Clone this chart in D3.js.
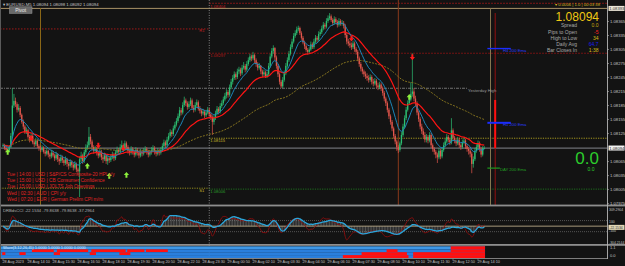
<!DOCTYPE html>
<html><head><meta charset="utf-8">
<script src="https://cdn.jsdelivr.net/npm/d3@7"></script>
<style>html,body{margin:0;padding:0;background:#131313;overflow:hidden}svg{display:block}text{font-family:"Liberation Sans","DejaVu Sans",sans-serif}</style>
</head><body><svg id="c" width="625" height="266"></svg>
<script>
// ---------------- DATA (EURUSD, M5) ----------------
const firstOpen = 1.08098;
const closes = [
1.08100,1.08094,1.08090,1.08088,1.08096,1.08120,1.08185,1.08195,1.08188,1.08176,
1.08180,1.08165,1.08150,1.08140,1.08128,1.08132,1.08118,1.08112,1.08120,1.08106,
1.08102,1.08110,1.08098,1.08094,1.08090,1.08095,1.08086,1.08082,1.08088,1.08080,
1.08076,1.08084,1.08078,1.08072,1.08080,1.08070,1.08066,1.08074,1.08068,1.08062,
1.08070,1.08060,1.08056,1.08064,1.08058,1.08052,1.08060,1.08048,1.08044,1.08070,
1.08078,1.08066,1.08085,1.08095,1.08100,1.08118,1.08108,1.08096,1.08088,1.08092,
1.08084,1.08078,1.08086,1.08074,1.08070,1.08078,1.08066,1.08072,1.08068,1.08074,
1.08080,1.08072,1.08084,1.08090,1.08086,1.08095,1.08100,1.08092,1.08104,1.08096,
1.08088,1.08084,1.08092,1.08086,1.08080,1.08090,1.08084,1.08078,1.08086,1.08082,
1.08088,1.08092,1.08086,1.08080,1.08085,1.08090,1.08094,1.08086,1.08082,1.08088,
1.08084,1.08090,1.08098,1.08106,1.08100,1.08112,1.08120,1.08128,1.08124,1.08136,
1.08144,1.08152,1.08162,1.08175,1.08170,1.08186,1.08196,1.08190,1.08182,1.08188,
1.08196,1.08180,1.08176,1.08186,1.08192,1.08178,1.08174,1.08168,1.08172,1.08164,
1.08170,1.08176,1.08166,1.08160,1.08150,1.08158,1.08168,1.08178,1.08172,1.08184,
1.08190,1.08198,1.08206,1.08214,1.08208,1.08224,1.08236,1.08244,1.08252,1.08246,
1.08258,1.08262,1.08254,1.08266,1.08270,1.08262,1.08274,1.08282,1.08290,1.08286,
1.08293,1.08282,1.08274,1.08266,1.08270,1.08258,1.08252,1.08256,1.08248,1.08252,
1.08270,1.08290,1.08302,1.08308,1.08288,1.08270,1.08252,1.08236,1.08226,1.08240,
1.08254,1.08270,1.08282,1.08296,1.08310,1.08322,1.08334,1.08340,1.08348,1.08351,
1.08340,1.08330,1.08320,1.08312,1.08304,1.08300,1.08305,1.08316,1.08310,1.08322,
1.08330,1.08326,1.08338,1.08342,1.08350,1.08358,1.08354,1.08366,1.08372,1.08376,
1.08368,1.08362,1.08370,1.08364,1.08358,1.08366,1.08360,1.08362,1.08356,1.08336,
1.08322,1.08318,1.08314,1.08310,1.08318,1.08306,1.08300,1.08286,1.08274,1.08264,
1.08258,1.08252,1.08248,1.08244,1.08240,1.08246,1.08236,1.08232,1.08238,1.08228,
1.08224,1.08230,1.08222,1.08212,1.08200,1.08190,1.08176,1.08162,1.08150,1.08136,
1.08120,1.08108,1.08096,1.08090,1.08104,1.08122,1.08140,1.08158,1.08176,1.08190,
1.08198,1.08210,1.08215,1.08200,1.08190,1.08170,1.08156,1.08140,1.08130,1.08122,
1.08112,1.08118,1.08110,1.08122,1.08100,1.08092,1.08086,1.08080,1.08074,1.08088,
1.08076,1.08090,1.08100,1.08108,1.08118,1.08112,1.08106,1.08132,1.08116,1.08110,
1.08104,1.08112,1.08100,1.08096,1.08106,1.08110,1.08098,1.08092,1.08088,1.08082,
1.08060,1.08070,1.08088,1.08096,1.08104,1.08092,1.08080,1.08094,1.08094];
const highs = [
1.08104,1.08103,1.08097,1.08093,1.08099,1.08126,1.08222,1.08210,1.08202,1.08192,
1.08188,1.08184,1.08168,1.08155,1.08144,1.08138,1.08135,1.08122,1.08126,1.08124,
1.08110,1.08116,1.08113,1.08102,1.08099,1.08100,1.08098,1.08090,1.08094,1.08091,
1.08084,1.08090,1.08088,1.08082,1.08086,1.08083,1.08074,1.08080,1.08078,1.08072,
1.08076,1.08073,1.08064,1.08070,1.08068,1.08062,1.08066,1.08063,1.08052,1.08076,
1.08086,1.08082,1.08090,1.08102,1.08108,1.08139,1.08124,1.08112,1.08100,1.08098,
1.08096,1.08088,1.08092,1.08090,1.08080,1.08084,1.08081,1.08078,1.08076,1.08080,
1.08086,1.08084,1.08090,1.08097,1.08094,1.08102,1.08110,1.08104,1.08110,1.08108,
1.08100,1.08092,1.08098,1.08096,1.08090,1.08096,1.08094,1.08088,1.08092,1.08090,
1.08094,1.08098,1.08096,1.08090,1.08090,1.08096,1.08100,1.08098,1.08090,1.08094,
1.08092,1.08096,1.08104,1.08112,1.08110,1.08118,1.08126,1.08134,1.08132,1.08142,
1.08150,1.08158,1.08168,1.08182,1.08180,1.08192,1.08204,1.08200,1.08194,1.08194,
1.08202,1.08200,1.08186,1.08192,1.08198,1.08196,1.08184,1.08178,1.08178,1.08176,
1.08176,1.08182,1.08180,1.08170,1.08164,1.08164,1.08174,1.08184,1.08182,1.08190,
1.08196,1.08204,1.08212,1.08220,1.08218,1.08230,1.08242,1.08250,1.08258,1.08256,
1.08264,1.08268,1.08266,1.08272,1.08278,1.08274,1.08280,1.08288,1.08296,1.08294,
1.08300,1.08296,1.08286,1.08278,1.08276,1.08272,1.08262,1.08262,1.08260,1.08258,
1.08276,1.08296,1.08308,1.08314,1.08310,1.08292,1.08274,1.08256,1.08240,1.08246,
1.08260,1.08276,1.08288,1.08302,1.08316,1.08328,1.08340,1.08346,1.08354,1.08356,
1.08354,1.08344,1.08334,1.08324,1.08316,1.08308,1.08310,1.08322,1.08320,1.08328,
1.08336,1.08334,1.08344,1.08348,1.08356,1.08364,1.08362,1.08372,1.08378,1.08383,
1.08380,1.08372,1.08376,1.08374,1.08368,1.08372,1.08370,1.08368,1.08366,1.08360,
1.08340,1.08328,1.08324,1.08320,1.08324,1.08322,1.08310,1.08304,1.08290,1.08278,
1.08268,1.08262,1.08258,1.08254,1.08250,1.08252,1.08250,1.08242,1.08244,1.08242,
1.08234,1.08236,1.08234,1.08226,1.08216,1.08204,1.08194,1.08180,1.08166,1.08154,
1.08140,1.08124,1.08112,1.08100,1.08108,1.08128,1.08146,1.08164,1.08182,1.08196,
1.08204,1.08235,1.08297,1.08222,1.08206,1.08194,1.08174,1.08160,1.08146,1.08136,
1.08128,1.08124,1.08122,1.08128,1.08126,1.08104,1.08096,1.08090,1.08084,1.08094,
1.08092,1.08096,1.08106,1.08114,1.08124,1.08122,1.08116,1.08158,1.08136,1.08120,
1.08114,1.08118,1.08116,1.08104,1.08112,1.08116,1.08114,1.08102,1.08096,1.08092,
1.08086,1.08076,1.08094,1.08102,1.08110,1.08108,1.08096,1.08098,1.08098];
const lows = [
1.08096,1.08090,1.08086,1.08084,1.08086,1.08094,1.08116,1.08180,1.08182,1.08170,
1.08172,1.08160,1.08146,1.08134,1.08124,1.08124,1.08114,1.08106,1.08108,1.08102,
1.08096,1.08098,1.08094,1.08088,1.08085,1.08086,1.08082,1.08076,1.08078,1.08074,
1.08070,1.08072,1.08074,1.08066,1.08068,1.08064,1.08058,1.08062,1.08062,1.08056,
1.08058,1.08054,1.08048,1.08052,1.08052,1.08046,1.08048,1.08042,1.08036,1.07989,
1.08064,1.08060,1.08062,1.08080,1.08090,1.08096,1.08102,1.08090,1.08082,1.08084,
1.08078,1.08072,1.08074,1.08068,1.08062,1.08066,1.08060,1.08058,1.08062,1.08064,
1.08070,1.08066,1.08068,1.08080,1.08080,1.08082,1.08090,1.08086,1.08088,1.08090,
1.08082,1.08078,1.08080,1.08080,1.08074,1.08076,1.08078,1.08072,1.08074,1.08076,
1.08078,1.08084,1.08080,1.08074,1.08076,1.08080,1.08086,1.08080,1.08076,1.08078,
1.08078,1.08080,1.08086,1.08094,1.08094,1.08096,1.08108,1.08116,1.08118,1.08120,
1.08132,1.08140,1.08148,1.08158,1.08164,1.08166,1.08182,1.08184,1.08176,1.08178,
1.08184,1.08176,1.08170,1.08172,1.08182,1.08174,1.08168,1.08162,1.08164,1.08158,
1.08160,1.08166,1.08160,1.08154,1.08122,1.08144,1.08154,1.08164,1.08166,1.08168,
1.08180,1.08186,1.08194,1.08200,1.08202,1.08204,1.08220,1.08230,1.08240,1.08240,
1.08242,1.08252,1.08248,1.08250,1.08262,1.08256,1.08258,1.08270,1.08278,1.08280,
1.08282,1.08276,1.08268,1.08260,1.08262,1.08252,1.08246,1.08248,1.08244,1.08244,
1.08248,1.08266,1.08286,1.08296,1.08282,1.08264,1.08246,1.08230,1.08222,1.08222,
1.08236,1.08250,1.08266,1.08278,1.08292,1.08306,1.08318,1.08330,1.08336,1.08344,
1.08336,1.08326,1.08316,1.08306,1.08300,1.08294,1.08296,1.08302,1.08306,1.08306,
1.08318,1.08320,1.08322,1.08334,1.08338,1.08346,1.08348,1.08350,1.08362,1.08368,
1.08364,1.08356,1.08358,1.08360,1.08352,1.08354,1.08356,1.08356,1.08350,1.08330,
1.08316,1.08312,1.08308,1.08304,1.08306,1.08300,1.08294,1.08280,1.08268,1.08258,
1.08252,1.08246,1.08242,1.08238,1.08234,1.08236,1.08230,1.08226,1.08228,1.08222,
1.08218,1.08220,1.08216,1.08206,1.08194,1.08184,1.08170,1.08156,1.08144,1.08130,
1.08114,1.08102,1.08088,1.08083,1.08086,1.08100,1.08118,1.08136,1.08154,1.08172,
1.08186,1.08194,1.08204,1.08194,1.08184,1.08164,1.08150,1.08134,1.08124,1.08116,
1.08106,1.08106,1.08104,1.08106,1.08094,1.08086,1.08080,1.08072,1.08062,1.08070,
1.08070,1.08072,1.08086,1.08096,1.08104,1.08106,1.08100,1.08102,1.08110,1.08104,
1.08098,1.08100,1.08094,1.08090,1.08092,1.08102,1.08092,1.08086,1.08080,1.08074,
1.08040,1.08052,1.08066,1.08084,1.08092,1.08086,1.08074,1.08076,1.08092];

const timeLabels = ["28 Aug 2023","28 Aug 14:10","28 Aug 15:30","28 Aug 16:50","28 Aug 18:10","28 Aug 19:30","28 Aug 20:50","28 Aug 22:10","28 Aug 23:30","29 Aug 00:50","29 Aug 02:10","29 Aug 03:30","29 Aug 04:50","29 Aug 06:10","29 Aug 07:30","29 Aug 08:50","29 Aug 10:10","29 Aug 11:30","29 Aug 12:50","29 Aug 14:10"];
const timeLabelBars = [0,16,32,48,64,80,96,112,128,144,160,176,192,208,224,240,256,272,288,304];
const priceTicks = ["1.07975","1.08005","1.08035","1.08065","1.08125","1.08155","1.08185","1.08215","1.08245","1.08275","1.08305","1.08335","1.08365"];
const currentPrice = 1.08094;

const buyBars = [3, 54, 68, 79, 260];
const buyPrices = [1.08085, 1.08055, 1.08034, 1.08036, 1.08203];
const sellBars = [18, 61, 77, 223, 262];
const sellPrices = [1.08115, 1.08100, 1.08094, 1.08329, 1.08289];

const events = ["Tue | 14:00 | USD | S&P/CS Composite-20 HPI y/y","Tue | 15:00 | USD | CB Consumer Confidence","Tue | 15:00 | USD | JOLTS Job Openings","Wed | 02:30 | AUD | CPI y/y","Wed | 07:20 | EUR | German Prelim CPI m/m"];
const infoLabels = ["Spread","Pips to Open","High to Low","Daily Avg","Bar Closes In"];
const infoValues = ["0.0","-5","34","64.7","1:38"];

const waveRow1Red = [[287,308]];
const waveRow2Red = [[19,32],[35,54],[57,78],[80,90],[92,105],[246,252],[287,308]];
const waveRow3Red = [[0,1],[11,14],[33,36],[56,59],[75,81],[230,258],[263,308]];
const waveRow4Red = [[218,259],[263,308]];
const cciLevels = [309.2904, 100, -100, -304.2144];

// ---------------- DRAW ----------------
const svg = d3.select('#c');
const W = 625, H = 266, AX = 607;
const BG = '#131313', BULL = '#2cbf72', BEAR = '#e4564c';
const x = d3.scaleLinear().domain([0, 304]).range([3, 478]);
const y = d3.scaleLinear().domain([1.07972, 1.08411]).range([205, 0]);
const yC = d3.scaleLinear().domain([-304.2144, 309.2904]).range([243, 209]);
const bw = x(1) - x(0);

svg.append('rect').attr('width', W).attr('height', H).attr('fill', BG);
const defs = svg.append('defs');
defs.append('clipPath').attr('id', 'cm').append('rect').attr('x', 0).attr('y', 0).attr('width', AX).attr('height', 205);
defs.append('clipPath').attr('id', 'cc').append('rect').attr('x', 0).attr('y', 207).attr('width', AX).attr('height', 37);

const bars = closes.map((c, i) => ({ i, o: i ? closes[i - 1] : firstOpen, h: highs[i], l: lows[i], c }));

function hline(p, x0, x1, color, dash, w) {
  svg.append('line').attr('x1', x0).attr('x2', x1).attr('y1', y(p)).attr('y2', y(p))
    .attr('stroke', color).attr('stroke-width', w || 1).attr('stroke-dasharray', dash || null);
}
function txt(s, tx, ty, size, color, anchor) {
  return svg.append('text').attr('x', tx).attr('y', ty).attr('font-size', size).attr('fill', color)
    .attr('text-anchor', anchor || 'start').text(s);
}
const xDay = x(132);

// level lines
hline(1.08393, 0, AX, '#a89266', null, 1);
hline(1.08404, xDay, AX, '#b01818', '1.5,1.5', 0.9);
hline(1.08349, 0, xDay, '#b01818', '1.5,1.5', 0.9);
hline(1.08297, xDay, AX, '#a01414', '1.5,1.5', 0.9);
hline(1.08222, 0, 467, '#8a8a8a', '3,1,1,1', 0.8);
hline(1.08115, xDay, AX, '#b8a820', '1.2,1.2', 0.9);
hline(1.08008, 0, xDay, '#a09a20', '1.2,1.2', 0.9);
hline(1.08006, xDay, AX, '#1f7a1f', '1.2,1.2', 0.9);
hline(currentPrice, 0, AX, '#6c6f74', null, 1.3);

// vertical lines
function vline(b, y0, y1, color, w, dash) {
  svg.append('line').attr('x1', x(b)).attr('x2', x(b)).attr('y1', y0).attr('y2', y1)
    .attr('stroke', color).attr('stroke-width', w).attr('stroke-dasharray', dash || null);
}
vline(24, 8, 205, '#8a6616', 1);
vline(132, 0, 258, '#a0a0a0', 0.8, '1,1.5');
vline(253, 0, 205, '#8a3a1c', 1);
vline(312, 8, 205, '#857550', 1);
vline(315, 13, 205, '#a01010', 0.9);
svg.append('line').attr('x1', x(315)).attr('x2', x(315)).attr('y1', y(1.08197)).attr('y2', y(currentPrice))
  .attr('stroke', '#ff1010').attr('stroke-width', 2);

// EMA markers at right
hline(1.08307, x(310), x(325), '#1a2cff', null, 1.4);
hline(1.08148, x(310), x(325), '#1a2cff', null, 2);
hline(1.08051, x(310), x(318), '#1e9a1e', null, 1.2);
txt('H4 200 Ema', x(320), y(1.08307) + 3, 4.2, '#2a3cff');
txt('H1 200 Ema', x(320), y(1.08148) + 3, 4.2, '#2a3cff');
txt('DAY 200 Ema', x(318), y(1.08051) + 3, 4.2, '#22a022');

// level labels
txt('1.08404', xDay + 1, y(1.08404) + 4.5, 4.2, '#c02020');
txt('R1', xDay - 10, y(1.08349) + 3, 4.2, '#c02020');
txt('1.08297', xDay + 1, y(1.08297) + 4, 4.2, '#b01818');
txt('Yesterday High', 468, y(1.08222) + 4, 4.2, '#9a9a9a');
txt('1.08115', xDay + 1, y(1.08115) + 3.5, 4.2, '#c8b428');
txt('S1', xDay - 10, y(1.08008) + 3.5, 4.2, '#c8b428');
txt('1.08006', xDay + 1, y(1.08006) + 3.5, 4.2, '#2a9a2a');

// candles
const gm = svg.append('g').attr('clip-path', 'url(#cm)');
gm.selectAll('line.w').data(bars).join('line')
  .attr('x1', d => x(d.i)).attr('x2', d => x(d.i)).attr('y1', d => y(d.h)).attr('y2', d => y(d.l))
  .attr('stroke', d => d.c >= d.o ? BULL : BEAR).attr('stroke-width', 0.7);
gm.selectAll('rect.b').data(bars).join('rect')
  .attr('x', d => x(d.i) - 0.65).attr('width', 1.3)
  .attr('y', d => y(Math.max(d.o, d.c))).attr('height', d => Math.max(0.7, Math.abs(y(d.o) - y(d.c))))
  .attr('fill', d => d.c >= d.o ? BULL : BEAR);

// moving averages (computed from closes)
function ema(arr, n) { const k = 2 / (n + 1); let e = arr[0]; return arr.map((v, i) => i ? (e = v * k + e * (1 - k)) : e); }
const lineGen = d3.line().x((d, i) => x(i)).y(d => y(d));
gm.append('path').attr('d', lineGen(ema(closes, 100))).attr('fill', 'none').attr('stroke', '#86741f').attr('stroke-width', 1).attr('stroke-dasharray', '2,1.2');
gm.append('path').attr('d', lineGen(ema(closes, 30))).attr('fill', 'none').attr('stroke', '#ff1414').attr('stroke-width', 1.2);
gm.append('path').attr('d', lineGen(ema(closes, 10))).attr('fill', 'none').attr('stroke', '#1d86b8').attr('stroke-width', 1);

// signal arrows
const upPath = 'M0,-3.2 L2.6,0 L1,0 L1,2.6 L-1,2.6 L-1,0 L-2.6,0 Z';
const dnPath = 'M0,3.2 L2.6,0 L1,0 L1,-2.6 L-1,-2.6 L-1,0 L-2.6,0 Z';
gm.selectAll('path.up').data(buyBars).join('path').attr('d', upPath)
  .attr('transform', (b, k) => `translate(${x(b)},${y(buyPrices[k])})`).attr('fill', '#8cf03c');
gm.selectAll('path.dn').data(sellBars).join('path').attr('d', dnPath)
  .attr('transform', (b, k) => `translate(${x(b)},${y(sellPrices[k])})`).attr('fill', '#ff1a1a');

// events
events.forEach((e, k) => txt(e, 7, 175.6 + k * 6.3, 4.8, '#e02424'));

// title + pivot button
txt('\u25BE EURUSD,M5  1.08094 1.08098 1.08092 1.08094', 3, 5.5, 4.3, '#c8c8c8');
svg.append('rect').attr('x', 9.5).attr('y', 6.8).attr('width', 22.5).attr('height', 6.6).attr('fill', '#6a6a6a').attr('stroke', '#9a9a9a').attr('stroke-width', 0.5);
txt('Pivot', 20.7, 12, 5, '#e6e6e6', 'middle');
txt('\u25BE 0.0006 | 1.0 | 00:03:38', 600, 6.3, 4.2, '#d8b820', 'end');

// info panel
txt(currentPrice.toFixed(5), 599, 20.6, 12, '#f0c814', 'end');
const infoColors = ['#c8aa10', '#ff2020', '#d8bc18', '#1c1cf0', '#d8bc18'];
infoLabels.forEach((l, k) => {
  const ty = 27.4 + k * 6.2;
  txt(l, 577, ty, 5, '#a8a8a8', 'end');
  txt(infoValues[k], 598.5, ty, 5, infoColors[k], 'end');
});
txt('0.0', 599, 163.5, 17, '#2ccc2c', 'end');
txt('0.0', 591, 171, 5, '#2ccc2c', 'middle');

// ---------- CCI window ----------
const tp = bars.map(b => (b.h + b.l + b.c) / 3);
function cci(n) {
  return tp.map((t, i) => {
    const w = tp.slice(Math.max(0, i - n + 1), i + 1);
    const m = d3.mean(w), md = d3.mean(w, v => Math.abs(v - m));
    return md ? Math.max(-290, Math.min(290, (t - m) / (0.015 * md))) : 0;
  });
}
const cciFast = ema(cci(30), 4).map(v => v * 0.8), cciSlow = ema(cci(14), 2);
const gc = svg.append('g').attr('clip-path', 'url(#cc)');
gc.append('line').attr('x1', 0).attr('x2', AX).attr('y1', yC(100)).attr('y2', yC(100)).attr('stroke', '#707070').attr('stroke-width', 0.7).attr('stroke-dasharray', '1,1');
gc.append('line').attr('x1', 0).attr('x2', AX).attr('y1', yC(-100)).attr('y2', yC(-100)).attr('stroke', '#707070').attr('stroke-width', 0.7).attr('stroke-dasharray', '1,1');
gc.selectAll('line.h').data(cciFast).join('line')
  .attr('x1', (d, i) => x(i)).attr('x2', (d, i) => x(i)).attr('y1', yC(0)).attr('y2', d => yC(d))
  .attr('stroke', '#8a8a8a').attr('stroke-width', 0.55);
gc.append('line').attr('x1', 0).attr('x2', AX).attr('y1', yC(0)).attr('y2', yC(0)).attr('stroke', '#b8a888').attr('stroke-width', 0.9);
const cLine = d3.line().x((d, i) => x(i)).y(d => yC(d)).curve(d3.curveMonotoneX);
gc.append('path').attr('d', cLine(cciSlow)).attr('fill', 'none').attr('stroke', '#8c0d0d').attr('stroke-width', 0.9);
gc.append('path').attr('d', cLine(cciFast)).attr('fill', 'none').attr('stroke', '#2aa6dc').attr('stroke-width', 1.3);
txt('DRBdsCCI -22.1534 -79.8638 -79.8638 -37.2964', 3, 211.5, 4.2, '#b0b0b0');

// ---------- Wave window ----------
const rows = [waveRow1Red, waveRow2Red, waveRow3Red, waveRow4Red];
const rowY = [246.3, 249.3, 252.2, 255.1], rowH = [3, 2.9, 2.9, 3];
const rowBlue = ['#3d97e6', '#2a7fdc', '#2a7fdc', '#2a7fdc'];
rows.forEach((segs, r) => {
  svg.append('rect').attr('x', 0).attr('y', rowY[r]).attr('width', x(308) + bw / 2).attr('height', rowH[r]).attr('fill', rowBlue[r]);
  svg.selectAll(null).data(segs).join('rect')
    .attr('x', d => x(d[0]) - bw / 2).attr('width', d => x(d[1]) - x(d[0]) + bw)
    .attr('y', rowY[r]).attr('height', rowH[r]).attr('fill', '#ff1010');
});
txt('Wave(3,12,26,45) 1.0000 1.0000 1.0000 0.0000', 3, 249.3, 3.9, '#dfe8ff');

// separators & axes
svg.append('rect').attr('x', 0).attr('y', 204.6).attr('width', W).attr('height', 1.8).attr('fill', '#8e8e8e');
svg.append('rect').attr('x', 0).attr('y', 244).attr('width', W).attr('height', 1.8).attr('fill', '#8e8e8e');
svg.append('line').attr('x1', 0).attr('x2', AX + 0.5).attr('y1', 258.5).attr('y2', 258.5).attr('stroke', '#9a9a9a').attr('stroke-width', 0.8);
svg.append('line').attr('x1', AX + 0.5).attr('x2', AX + 0.5).attr('y1', 0).attr('y2', 259).attr('stroke', '#b4b4b4').attr('stroke-width', 0.9);
svg.append('line').attr('x1', 0.5).attr('x2', 0.5).attr('y1', 0).attr('y2', 259).attr('stroke', '#5a5a5a').attr('stroke-width', 1);

// price axis
priceTicks.forEach(t => {
  const ty = y(+t);
  svg.append('line').attr('x1', AX).attr('x2', AX + 2).attr('y1', ty).attr('y2', ty).attr('stroke', '#b4b4b4').attr('stroke-width', 0.6);
  txt(t, 610, ty + 1.5, 4.2, '#c4c4c4');
});
function axBox(label, ty, bg, fg, fs) {
  svg.append('rect').attr('x', 608.5).attr('y', ty - 2.5).attr('width', 16).attr('height', 5).attr('fill', bg);
  txt(label, 609.3, ty + 1.5, fs || 4.2, fg);
}
axBox('1.08393', y(1.08393), '#ece6d8', '#333');
axBox(currentPrice.toFixed(5), y(currentPrice), '#f2f2f2', '#222');

// CCI axis
cciLevels.forEach(v => {
  const s = Math.abs(v) === 100 ? String(v) : v.toFixed(4);
  txt(s, 609, yC(v) + (v > 0 ? 2.2 : 0.8), 3.4, '#c4c4c4');
});
axBox('-22.1534', yC(-22.1534), '#e2d6b4', '#333', 3.4);
txt('1.1', 610, 249.3, 4, '#c4c4c4');
txt('0.0', 610, 257.2, 4, '#c4c4c4');

// time axis
timeLabelBars.forEach((b, k) => {
  svg.append('line').attr('x1', x(b)).attr('x2', x(b)).attr('y1', 258.5).attr('y2', 260.5).attr('stroke', '#9a9a9a').attr('stroke-width', 0.6);
  txt(timeLabels[k], x(b) - 0.5, 263.3, 3.8, '#c0c0c0');
});
</script>
</body></html>
